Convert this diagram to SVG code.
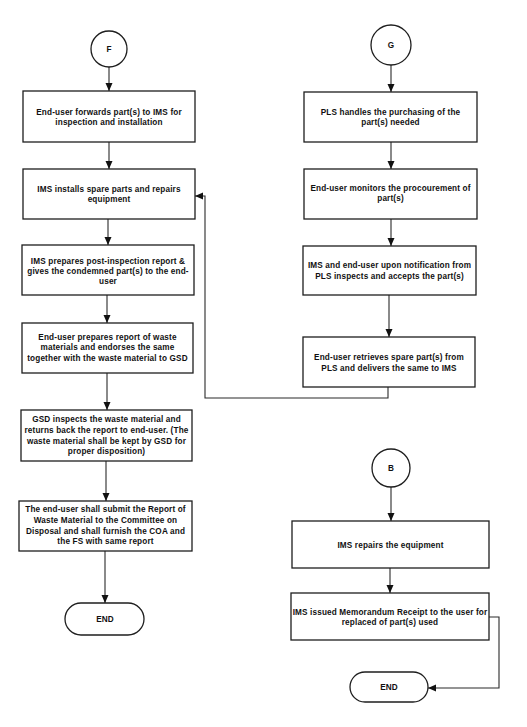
<svg xmlns="http://www.w3.org/2000/svg" width="527" height="727" viewBox="0 0 527 727">
<style>
.box{fill:none;stroke:#1e1e1e;stroke-width:1.3}
.t{font-family:"Liberation Sans",Arial,sans-serif;font-weight:bold;font-size:8.2px;letter-spacing:0.15px;fill:#111;text-anchor:middle}
.c{stroke:#2a2a2a;stroke-width:1.1;fill:none}
</style>
<defs>
<marker id="ah" markerWidth="8" markerHeight="8" refX="8" refY="4" orient="auto" markerUnits="userSpaceOnUse">
<path d="M0,0.5 L8,4 L0,7.5 z" fill="#111"/>
</marker>
</defs>
<rect width="527" height="727" fill="#fff"/>
<g id="connectors">
<line class="c" x1="109" y1="67" x2="109" y2="91" marker-end="url(#ah)"/>
<line class="c" x1="109" y1="142" x2="109" y2="169" marker-end="url(#ah)"/>
<line class="c" x1="108" y1="219" x2="108" y2="245" marker-end="url(#ah)"/>
<line class="c" x1="107" y1="295" x2="107" y2="323" marker-end="url(#ah)"/>
<line class="c" x1="107" y1="373" x2="107" y2="410" marker-end="url(#ah)"/>
<line class="c" x1="106" y1="461" x2="106" y2="501" marker-end="url(#ah)"/>
<line class="c" x1="105" y1="551" x2="105" y2="603" marker-end="url(#ah)"/>
<line class="c" x1="391" y1="65" x2="391" y2="92" marker-end="url(#ah)"/>
<line class="c" x1="391" y1="142" x2="391" y2="169" marker-end="url(#ah)"/>
<line class="c" x1="391" y1="219" x2="391" y2="246" marker-end="url(#ah)"/>
<line class="c" x1="389" y1="295" x2="389" y2="337" marker-end="url(#ah)"/>
<polyline class="c" points="388,387 388,398 205,398 205,196 195,196" marker-end="url(#ah)"/>
<line class="c" x1="391" y1="487" x2="391" y2="521" marker-end="url(#ah)"/>
<line class="c" x1="390" y1="568" x2="390" y2="593" marker-end="url(#ah)"/>
<polyline class="c" points="489,617 499,617 499,688 428,688" marker-end="url(#ah)"/>
</g>
<g id="F">
<circle class="box" cx="109" cy="49" r="18"/>
<text class="t" x="109" y="52">F</text>
</g>
<g id="n1">
<rect class="box" x="23" y="91" width="172" height="51"/>
<text class="t" x="109" y="115">End-user forwards part(s) to IMS for</text>
<text class="t" x="109" y="125">inspection and installation</text>
</g>
<g id="n2">
<rect class="box" x="23" y="169" width="172" height="50"/>
<text class="t" x="109" y="192">IMS installs spare parts and repairs</text>
<text class="t" x="109" y="202">equipment</text>
</g>
<g id="n3">
<rect class="box" x="22" y="245" width="172" height="50"/>
<text class="t" x="108" y="264">IMS prepares post-inspection report &amp;</text>
<text class="t" x="108" y="274">gives the condemned part(s) to the end-</text>
<text class="t" x="108" y="284">user</text>
</g>
<g id="n4">
<rect class="box" x="22" y="323" width="171" height="50"/>
<text class="t" x="107.5" y="340">End-user prepares report of waste</text>
<text class="t" x="107.5" y="350">materials and endorses the same</text>
<text class="t" x="107.5" y="361">together with the waste material to GSD</text>
</g>
<g id="n5">
<rect class="box" x="21" y="410" width="171" height="51"/>
<text class="t" x="106.5" y="422">GSD inspects the waste material and</text>
<text class="t" x="106.5" y="433">returns back the report to end-user. (The</text>
<text class="t" x="106.5" y="444">waste material shall be kept by GSD for</text>
<text class="t" x="106.5" y="454">proper disposition)</text>
</g>
<g id="n6">
<rect class="box" x="19" y="501" width="173" height="50"/>
<text class="t" x="105.5" y="512">The end-user shall submit the Report of</text>
<text class="t" x="105.5" y="523">Waste Material to the Committee on</text>
<text class="t" x="105.5" y="534">Disposal and shall furnish the COA and</text>
<text class="t" x="105.5" y="544">the FS with same report</text>
</g>
<g id="end1">
<rect class="box" x="65" y="603" width="79" height="32" rx="16"/>
<text class="t" x="105" y="622">END</text>
</g>
<g id="G">
<circle class="box" cx="391" cy="45" r="20"/>
<text class="t" x="391" y="48">G</text>
</g>
<g id="g1">
<rect class="box" x="304" y="92" width="173" height="50"/>
<text class="t" x="390.5" y="115">PLS handles the purchasing of the</text>
<text class="t" x="390.5" y="125">part(s) needed</text>
</g>
<g id="g2">
<rect class="box" x="304" y="169" width="173" height="50"/>
<text class="t" x="390.5" y="191">End-user monitors the procourement of</text>
<text class="t" x="390.5" y="201">part(s)</text>
</g>
<g id="g3">
<rect class="box" x="303" y="246" width="173" height="49"/>
<text class="t" x="389.5" y="268">IMS and end-user upon notification from</text>
<text class="t" x="389.5" y="279">PLS inspects and accepts the part(s)</text>
</g>
<g id="g4">
<rect class="box" x="303" y="337" width="172" height="50"/>
<text class="t" x="389" y="360">End-user retrieves spare part(s) from</text>
<text class="t" x="389" y="371">PLS and delivers the same to IMS</text>
</g>
<g id="B">
<circle class="box" cx="391" cy="468" r="19"/>
<text class="t" x="391" y="471">B</text>
</g>
<g id="b1">
<rect class="box" x="292" y="521" width="197" height="47"/>
<text class="t" x="390.5" y="548">IMS repairs the equipment</text>
</g>
<g id="b2">
<rect class="box" x="291" y="593" width="198" height="47"/>
<text class="t" x="390" y="615">IMS issued Memorandum Receipt to the user for</text>
<text class="t" x="390" y="625">replaced of part(s) used</text>
</g>
<g id="end2">
<rect class="box" x="350" y="672" width="78" height="30" rx="15"/>
<text class="t" x="389" y="690">END</text>
</g>
</svg>
